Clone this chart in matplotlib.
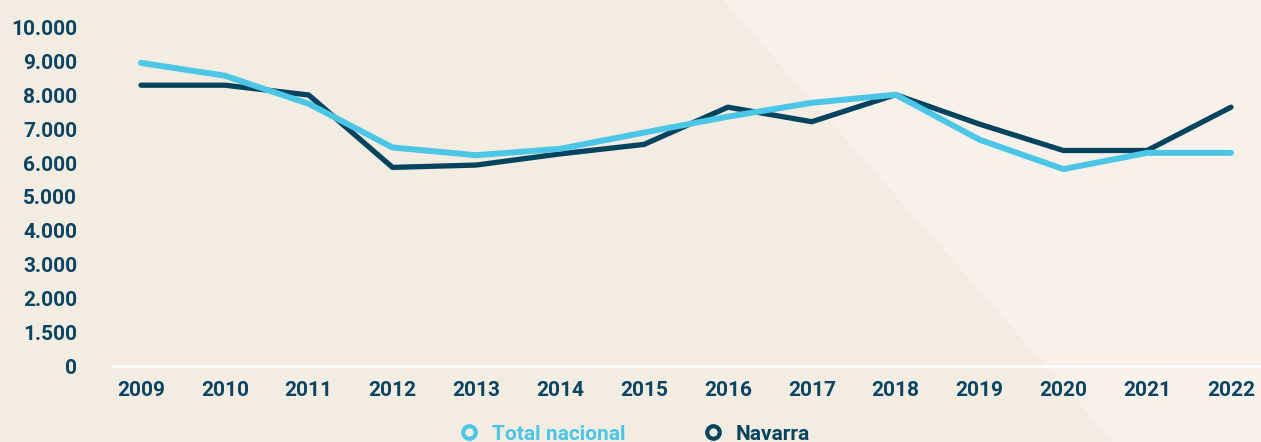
import matplotlib.pyplot as plt
from matplotlib.lines import Line2D
from matplotlib.patches import Polygon

# datos
anios = [2009, 2010, 2011, 2012, 2013, 2014, 2015, 2016, 2017, 2018, 2019, 2020, 2021, 2022]
total_nacional = [8960, 8580, 7750, 6460, 6230, 6420, 6900, 7370, 7780, 8020, 6690, 5820, 6300, 6300]
navarra = [8300, 8300, 8010, 5870, 5940, 6270, 6550, 7650, 7220, 8020, 7150, 6370, 6370, 7650]
ticks_y = [0, 1000, 2000, 3000, 4000, 5000, 6000, 7000, 8000, 9000, 10000]
etiquetas_y = ['0', '1.500', '2.000', '3.000', '4.000', '5.000', '6.000', '7.000', '8.000', '9.000', '10.000']

color_claro = '#4BC6E7'
color_oscuro = '#05445F'
color_texto = '#0B4462'

plt.rcParams['font.family'] = ['Roboto', 'DejaVu Sans']
plt.rcParams['font.weight'] = 'bold'

fig = plt.figure(figsize=(12.61, 4.42), dpi=100)
fig.patch.set_facecolor('#F2ECE1')

# fondo diagonal mas claro a la derecha
fondo = Polygon([(0.573, 1), (1, 1), (1, 0), (0.883, 0)], closed=True,
                transform=fig.transFigure, facecolor='#F7F1EA', edgecolor='none', zorder=-10)
fig.patches.append(fondo)

ax = fig.add_axes([112 / 1261, (442 - 366) / 442, 1 - 112 / 1261, 362 / 442])
ax.set_zorder(5)
ax.set_facecolor('none')

ax.plot(anios, navarra, color=color_oscuro, linewidth=3.8, solid_joinstyle='round', solid_capstyle='round', zorder=3)
ax.plot(anios, total_nacional, color=color_claro, linewidth=4.3, solid_joinstyle='round', solid_capstyle='round', zorder=4)

ax.set_xlim(2008.654, 2022.358)
ax.set_ylim(0, 10700)
ax.set_xticks(anios)
ax.set_xticklabels([str(a) for a in anios])
ax.set_yticks(ticks_y)
ax.set_yticklabels(etiquetas_y)

for lado in ['top', 'right', 'left']:
    ax.spines[lado].set_visible(False)
ax.spines['bottom'].set_color('white')
ax.spines['bottom'].set_linewidth(1.8)
ax.tick_params(axis='both', length=0, labelsize=15, labelcolor=color_texto)
ax.tick_params(axis='y', pad=25)
ax.tick_params(axis='x', pad=11)

# leyenda
manejadores = [
    Line2D([], [], linestyle='none', marker='o', markersize=9, markerfacecolor='none',
           markeredgecolor=color_claro, markeredgewidth=3),
    Line2D([], [], linestyle='none', marker='o', markersize=9, markerfacecolor='none',
           markeredgecolor=color_oscuro, markeredgewidth=3),
]
leyenda = fig.legend(manejadores, ['Total nacional', 'Navarra'], loc='center',
                     bbox_to_anchor=(0.503, 0.018), ncol=2, frameon=False, fontsize=15,
                     handlelength=1.0, handletextpad=0.6, columnspacing=3.7)
for texto, c in zip(leyenda.get_texts(), [color_claro, color_oscuro]):
    texto.set_color(c)

fig.savefig('out.png', dpi=100, facecolor=fig.get_facecolor())
